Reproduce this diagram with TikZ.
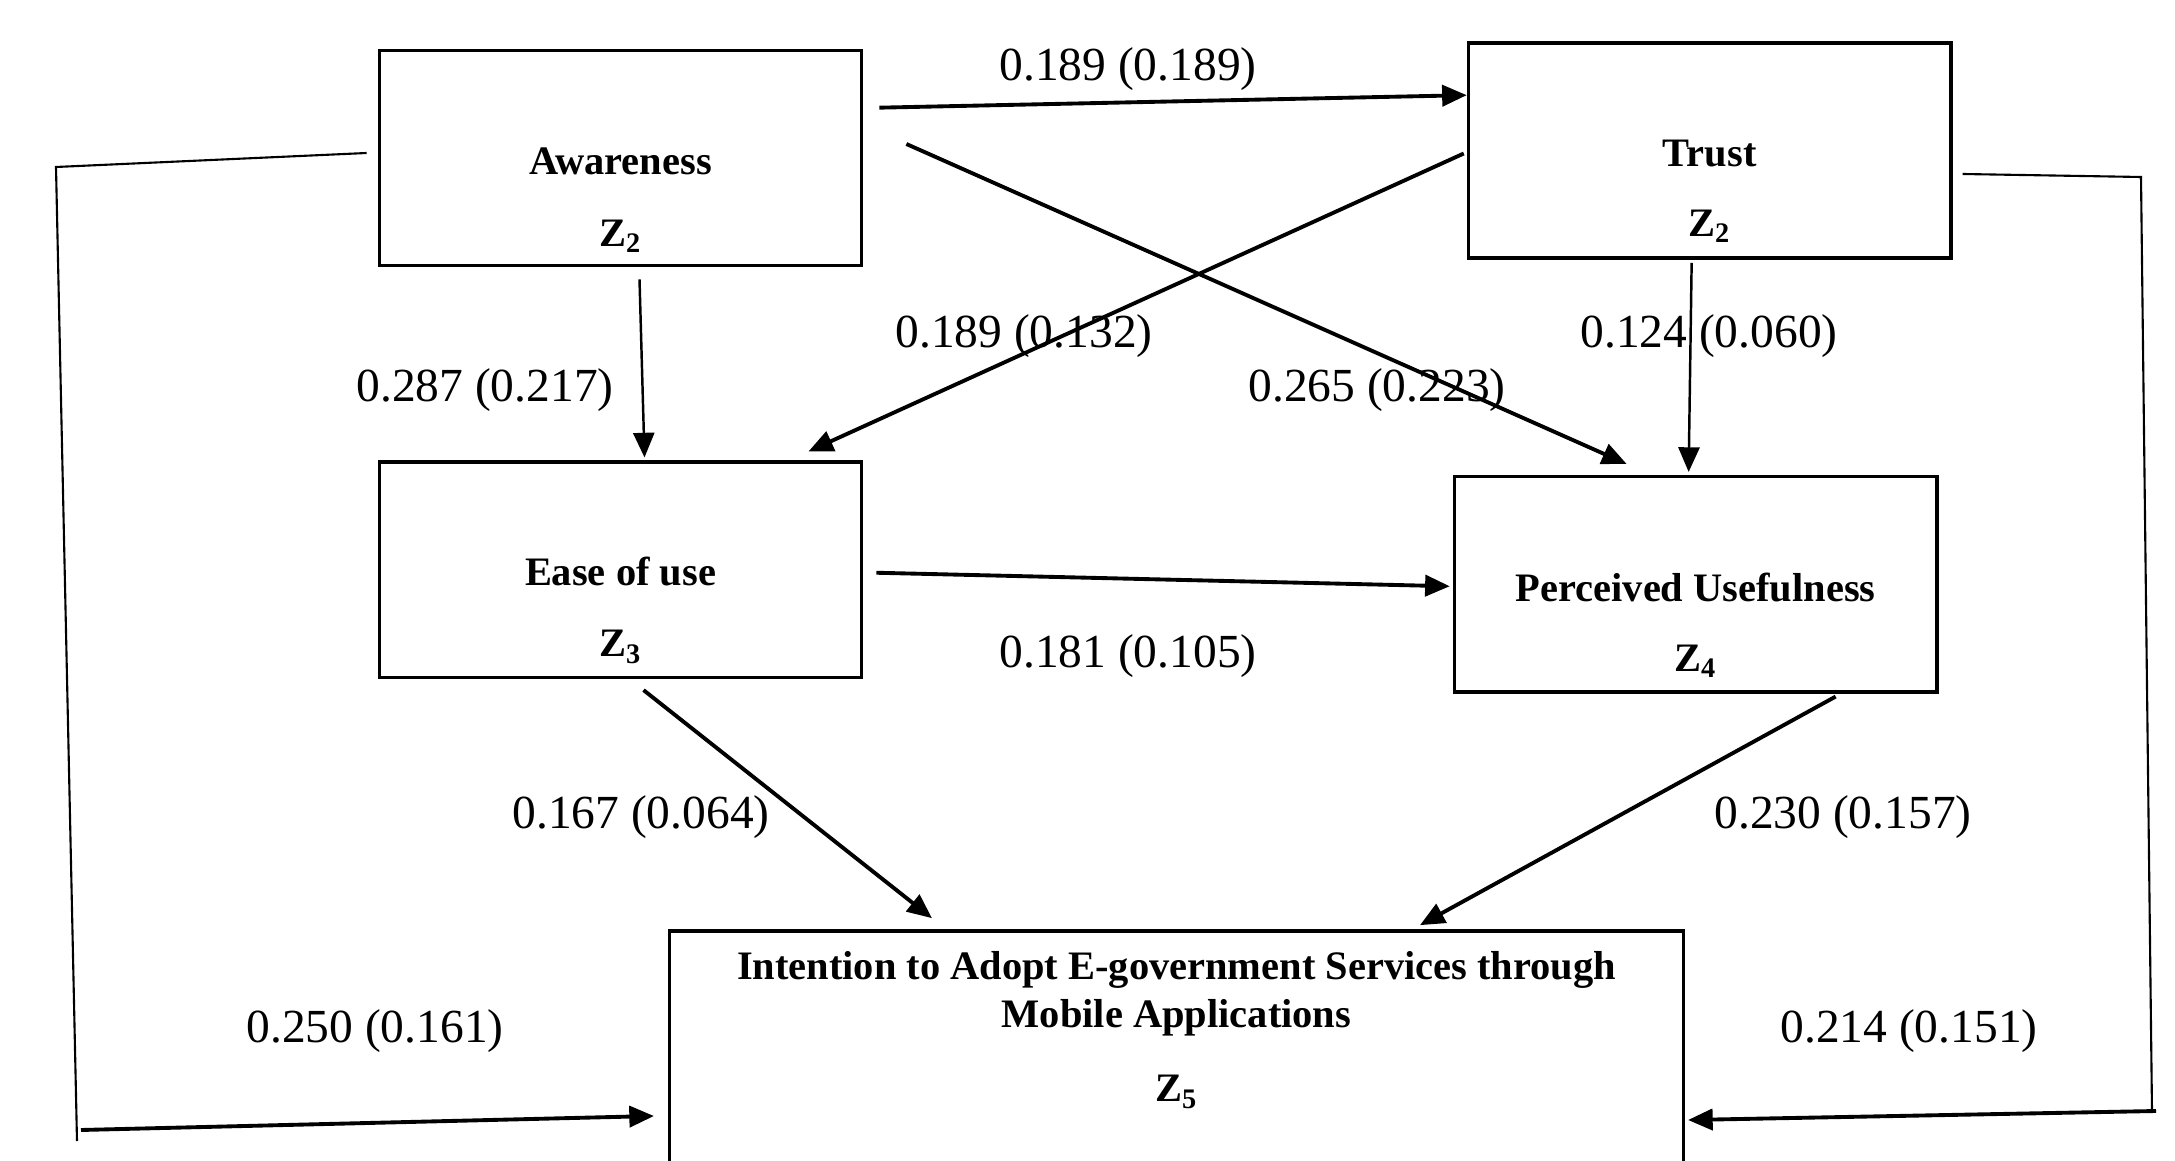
\documentclass[tikz,border=0pt]{standalone}
\usepackage{fontspec}
\setmainfont{Liberation Serif}
\usetikzlibrary{arrows.meta,positioning,calc}

\tikzset{
  box/.style={draw, line width=1pt, minimum width=4.82cm, minimum height=2.15cm, inner sep=0pt},
  title/.style={font=\fontsize{11.5}{13.8}\selectfont\bfseries, align=center, inner sep=0pt},
  coef/.style={font=\fontsize{13.5}{16}\selectfont, inner sep=0pt},
  link/.style={line width=1.1pt, -{Triangle[length=7pt,width=6pt]}},
  thinlink/.style={line width=0.7pt, -{Triangle[length=7pt,width=6pt]}},
  guide/.style={line width=0.6pt}
}

\begin{document}
\begin{tikzpicture}[x=0.01cm, y=-0.01cm]
      \useasboundingbox (0,0) rectangle (2175,1161);
      \clip (0,0) rectangle (2175,1161);
      % boxes
      \node[box] (aw) at (620.5,158) {};
      \node[box, right=6.03cm of aw, yshift=0.075cm] (tr) {};
      \node[box, below=1.93cm of aw] (ease) {};
      \node[box, below=2.15cm of tr, xshift=-0.14cm] (pu) {};
      \node[box, minimum width=10.13cm, minimum height=3cm] (int) at (1176.5,1081) {};
      % texts in the boxes
      \node[title] (awT) at ($(aw.center)+(0,3)$) {Awareness};
      \node[title] (awZ) at ($(aw.center)+(0,78)$) {Z\textsubscript{2}};
      \node[title] (trT) at ($(tr.center)+(0,3)$) {Trust};
      \node[title] (trZ) at ($(tr.center)+(0,76)$) {Z\textsubscript{2}};
      \node[title] (easeT) at ($(ease.center)+(0,2)$) {Ease of use};
      \node[title] (easeZ) at ($(ease.center)+(0,77)$) {Z\textsubscript{3}};
      \node[title] (puT) at ($(pu.center)+(0,3)$) {Perceived Usefulness};
      \node[title] (puZ) at ($(pu.center)+(0,77)$) {Z\textsubscript{4}};
      \node[title] (intT) at (1176.5,994) {Intention to Adopt E-government Services through\\Mobile Applications};
      \node[title] (intZ) at (1176.5,1092) {Z\textsubscript{5}};
      % paths
      \draw[link] ($(aw.north east)+(16,59)$) -- ($(tr.north west)+(0,54)$);
      \draw[link] ($(tr.west)+(-3,3)$) -- ($(ease.north)+(188,-9)$);
      \draw[link] ($(aw.east)+(43,-14)$) -- ($(pu.north)+(-69,-11)$);
      \draw[thinlink] ($(aw.south)+(19,12)$) -- ($(ease.north)+(24,-3)$);
      \draw[thinlink] ($(tr.south)+(-18,3)$) -- ($(pu.north)+(-7,-3)$);
      \draw[link] ($(ease.east)+(13,3)$) -- ($(pu.west)+(-3,2)$);
      \draw[link] ($(ease.south)+(23,11)$) -- ($(int.north west)+(264,-11)$);
      \draw[link] ($(pu.south)+(140,3)$) -- ($(int.north)+(243.5,-4)$);
      % direct paths round the side
      \coordinate (lt) at (56,167);
      \coordinate (lb) at (77,1141);
      \coordinate (rt) at (2141,177);
      \coordinate (rb) at (2152,1112);
      \draw[guide] ($(aw.west)+(-11,-5)$) -- (lt) -- (lb);
      \draw[link] ($(lb)+(4,-11)$) -- ($(int.west)+(-14,35)$);
      \draw[guide] ($(tr.east)+(10,23.5)$) -- (rt) -- (rb);
      \draw[link] ($(rb)+(4,-1)$) -- ($(int.east)+(3,39)$);
      % coefficients
      \node[coef] (c1) at (1128,69) {0.189 (0.189)};
      \node[coef] (c2) at (1024,336) {0.189 (0.132)};
      \node[coef] (c3) at (1377,390) {0.265 (0.223)};
      \node[coef] (c4) at (485,390) {0.287 (0.217)};
      \node[coef] (c5) at (1709,336) {0.124 (0.060)};
      \node[coef] (c6) at (1128,656) {0.181 (0.105)};
      \node[coef] (c7) at (641,817) {0.167 (0.064)};
      \node[coef] (c8) at (1843,817) {0.230 (0.157)};
      \node[coef] (c9) at (375,1031) {0.250 (0.161)};
      \node[coef] (c10) at (1909,1031) {0.214 (0.151)};
\end{tikzpicture}
\end{document}
